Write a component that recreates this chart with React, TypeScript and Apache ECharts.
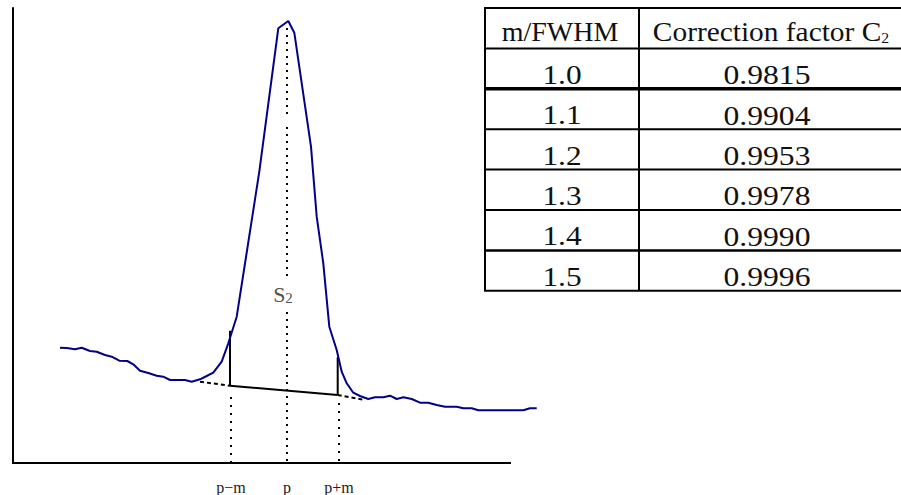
import React, { useEffect, useRef } from "react";
import * as echarts from "echarts";

// Spectrum (x: channel position, y: counts, arbitrary units)
const spectrumX = [47, 53.7, 62, 68.7, 77, 83.7, 92, 98.7, 106.3, 114.3, 120.3, 127, 135.3, 143.7, 150.3, 157, 172, 178.7, 187, 193.7, 200.3, 208.7, 215.3, 223.7, 246.3, 265.3, 275.3, 281.3, 298, 303.7, 310.3, 316.3, 323.7, 328.7, 333.7, 340.3, 347, 355.3, 362, 370.3, 377, 383.7, 390.3, 398.7, 407, 415.3, 423.7, 432, 443.7, 450.3, 458.7, 465.3, 510.3, 517, 523.7];
const spectrumY = [115.3, 115, 113.7, 115.3, 112, 111.3, 108, 106.3, 102.3, 102, 98.7, 92.3, 90, 87.3, 86.3, 83, 83, 81.3, 83.7, 87, 90.3, 101.3, 119.7, 146.3, 291.3, 434.7, 442, 430.3, 316.3, 246.3, 199.7, 136.3, 113, 91.3, 79.7, 70.3, 67, 64, 65.7, 65.7, 67.3, 64, 65.7, 64, 60.3, 60.3, 58, 56.3, 56.3, 54.7, 54.7, 52.7, 52.7, 54.7, 54.7];

// Axis tick positions and labels
const tickValues = [218, 274, 326];
const tickLabels = ["p\u2212m", "p", "p+m"];

// Construction lines (data coordinates)
const xAxisLine = [[-1, 0], [498, 0]];
const baselineSolid = [[217, 77.3], [324.7, 68]];
const baselineDashLeft = [[187, 81.3], [217, 77.3]];
const baselineDashRight = [[324.7, 68], [352, 63]];
const leftBoundary = [[217, 132.3], [217, 77.3]];
const rightBoundary = [[324.7, 105.7], [324.7, 68]];
const peakDotted1 = [[274, 435], [274, 348]];
const peakDotted2 = [[274, 336], [274, 187]];
const peakDotted3 = [[274, 151], [274, 0]];
const leftDotted = [[218, 66], [218, 0]];
const rightDotted = [[326, 60], [326, 0]];
const areaLabelPos = [270, 169];

// Table
const tableHeader = ["m/FWHM", "Correction factor C{sub|2}"];
const mOverFwhm = ["1.0", "1.1", "1.2", "1.3", "1.4", "1.5"];
const correctionC2 = ["0.9815", "0.9904", "0.9953", "0.9978", "0.9990", "0.9996"];

export default function App() {
  const ref = useRef<HTMLDivElement>(null);
  useEffect(() => {
    const chart = echarts.init(ref.current!, null, { renderer: "svg" });
    const curve = spectrumX.map((x, i) => [x, spectrumY[i]]);

    const seg = (data: number[][], color: string, width: number, type: any) => ({
      type: "line",
      data,
      showSymbol: false,
      symbol: "none",
      clip: false,
      silent: true,
      z: 2,
      lineStyle: { color, width, type, cap: "butt" },
    });

    // table graphic
    const tLeft = 485;
    const tDiv = 639;
    const tRight = 903;
    const tTop = 8;
    const rowH = 40.4;
    const nRows = mOverFwhm.length + 1;
    const col1 = 562;
    const col2 = 767;
    const elements: any[] = [];
    for (let i = 0; i <= nRows; i++) {
      const y = tTop + i * rowH;
      const w = i === 2 ? 3.5 : i === 6 ? 2.5 : 2;
      elements.push({
        type: "line",
        shape: { x1: tLeft - 1, y1: y, x2: tRight, y2: y },
        style: { stroke: "#000", lineWidth: w },
      });
    }
    [tLeft, tDiv].forEach((x) =>
      elements.push({
        type: "line",
        shape: { x1: x, y1: tTop, x2: x, y2: tTop + nRows * rowH },
        style: { stroke: "#000", lineWidth: 2 },
      })
    );
    const rich = {
      base: { fontFamily: "Liberation Serif", fontSize: 28, fill: "#111", color: "#111", verticalAlign: "bottom" },
      sub: { fontFamily: "Liberation Serif", fontSize: 15, fill: "#111", color: "#111", verticalAlign: "bottom" },
    };
    const cellText = (text: string, x: number, y: number, sx: number) => ({
      type: "text",
      x,
      y,
      scaleX: sx,
      style: {
        text: text.includes("{sub|") ? text.replace(/^([^{]+)/, "{base|$1}") : text,
        fontFamily: "Liberation Serif",
        fontSize: 28,
        fill: "#111",
        align: "center",
        verticalAlign: "middle",
        rich,
      },
    });
    elements.push(cellText(tableHeader[0], col1 - 2, tTop + 23, 1.0));
    elements.push(cellText(tableHeader[1], col2 + 4, tTop + 23, 1.05));
    mOverFwhm.forEach((v, i) => {
      const top = tTop + (i + 1) * rowH;
      elements.push(cellText(v, col1, top + 26, 1.12));
      elements.push(cellText(correctionC2[i], col2, top + 26, 1.13));
    });

    const option: any = {
      animation: false,
      backgroundColor: "#fff",
      grid: { left: 13, top: 8, width: 530, height: 455, containLabel: false },
      xAxis: {
        type: "value",
        min: 0,
        max: 530,
        splitLine: { show: false },
        axisTick: { show: false },
        axisLine: { show: false },
        axisLabel: {
          show: true,
          customValues: tickValues,
          formatter: (v: number) => tickLabels[tickValues.indexOf(v)] ?? "",
          fontFamily: "Liberation Serif",
          fontSize: 16,
          color: "#222",
          margin: 16,
        },
      },
      yAxis: {
        type: "value",
        min: 0,
        max: 455,
        splitLine: { show: false },
        axisTick: { show: false },
        axisLabel: { show: false },
        axisLine: { show: true, onZero: false, lineStyle: { color: "#000", width: 2 } },
      },
      series: [
        seg(xAxisLine, "#000", 2, "solid"),
        seg(peakDotted1, "#000", 2, [2, 5]),
        seg(peakDotted2, "#000", 2, [2, 5]),
        seg(peakDotted3, "#000", 2, [2, 5]),
        seg(leftDotted, "#000", 2, [2, 6]),
        seg(rightDotted, "#000", 2, [2, 6]),
        seg(baselineDashLeft, "#000", 2, [4, 3]),
        seg(baselineDashRight, "#000", 2, [4, 3]),
        seg(baselineSolid, "#000", 2, "solid"),
        seg(leftBoundary, "#000", 2, "solid"),
        seg(rightBoundary, "#000", 2, "solid"),
        {
          type: "line",
          data: curve,
          showSymbol: false,
          symbol: "none",
          clip: false,
          z: 3,
          lineStyle: { color: "#00008b", width: 2 },
        },
        {
          type: "scatter",
          data: [areaLabelPos],
          symbolSize: 0,
          z: 4,
          label: {
            show: true,
            position: "inside",
            formatter: "{s|S}{sub|2}",
            rich: {
              s: { fontFamily: "Liberation Serif", fontSize: 22, color: "#222", verticalAlign: "bottom" },
              sub: { fontFamily: "Liberation Serif", fontSize: 15, color: "#222", verticalAlign: "bottom" },
            },
          },
        },
      ],
      graphic: elements,
    };
    chart.setOption(option);
    return () => chart.dispose();
  }, []);
  return (
    <div
      ref={ref}
      style={{ position: "fixed", left: 0, top: 0, width: 901, height: 495, background: "#fff" }}
    />
  );
}
